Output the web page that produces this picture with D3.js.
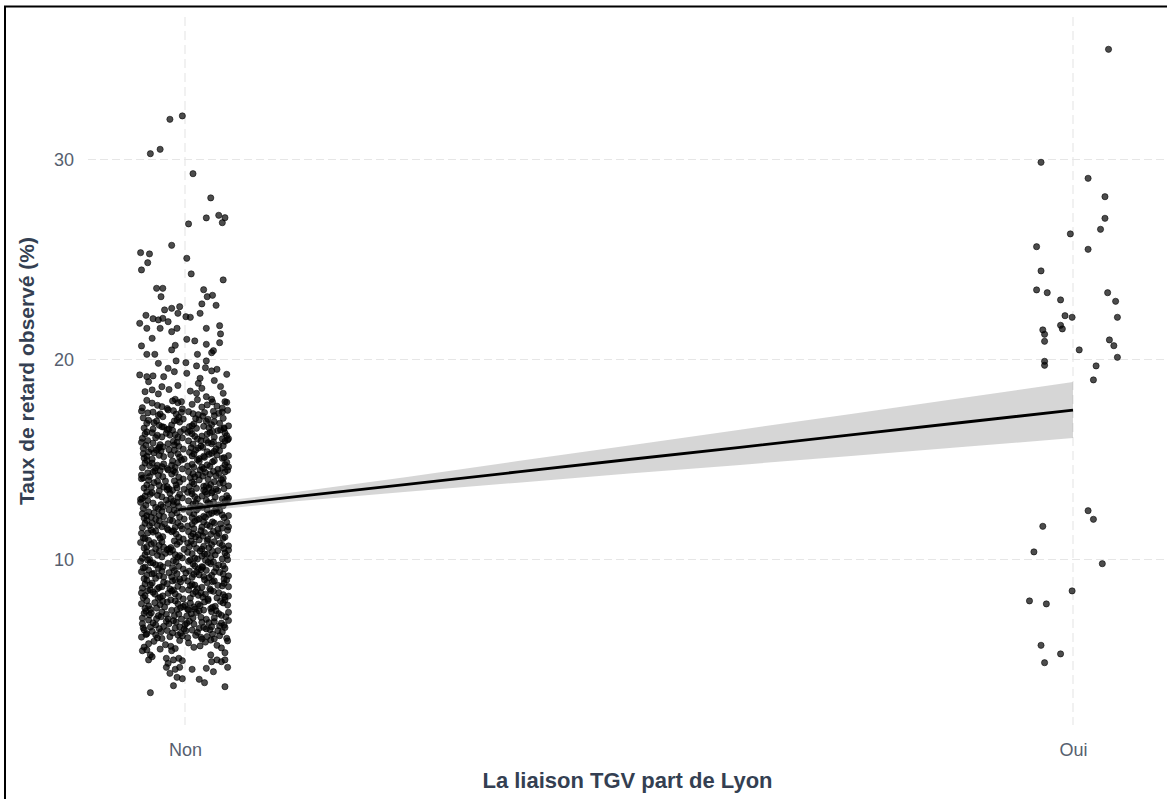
<!DOCTYPE html>
<html><head><meta charset="utf-8">
<script src="https://cdn.jsdelivr.net/npm/d3@7"></script>
<style>html,body{margin:0;padding:0;background:#fff;} svg{display:block;}</style>
</head><body><svg id="c" width="1167" height="799"></svg>
<script>
const categories = ["Non", "Oui"];
const yTicks = [10, 20, 30];
const xTitle = "La liaison TGV part de Lyon";
const yTitle = "Taux de retard observé (%)";

// linear fit + 95% confidence band (x = 1 for Non, 2 for Oui)
const fitX     = [0.992, 1.125, 1.25, 1.375, 1.5, 1.625, 1.75, 1.875, 2.0];
const fitY     = [12.48, 13.14, 13.76, 14.38, 15.00, 15.61, 16.23, 16.85, 17.47];
const bandLow  = [12.30, 12.91, 13.39, 13.84, 14.30, 14.73, 15.18, 15.62, 16.07];
const bandHigh = [12.66, 13.37, 14.13, 14.92, 15.70, 16.49, 17.28, 18.08, 18.87];

// Oui points: [jitter, value]
const ouiPoints = [
[.040,35.51],[-.036,29.86],[.017,29.06],[.036,28.14],[.036,27.06],[.031,26.51],[-.003,26.28],[-.041,25.64],
[.017,25.51],[-.036,24.43],[-.041,23.48],[-.029,23.34],[-.014,22.98],[.039,23.34],[.048,22.91],[-.009,22.19],
[-.001,22.11],[.050,22.11],[-.014,21.71],[-.012,21.53],[-.034,21.48],[-.032,21.26],[-.032,20.91],[.041,20.98],
[.046,20.69],[.007,20.48],[.050,20.11],[-.032,19.91],[-.032,19.71],[.026,19.68],[.023,18.98],[.017,12.44],
[.023,12.01],[-.034,11.66],[-.044,10.38],[.033,9.79],[-.001,8.43],[-.049,7.93],[-.030,7.78],[-.036,5.71],
[-.014,5.28],[-.032,4.84]
];

// Non points: [jitter, value]
const nonPoints = [
[-.017,32.01],[-.003,32.18],[-.039,30.29],[-.028,30.51],[.009,29.29],[.029,28.08],[.024,27.08],[.038,27.21],
[.045,27.09],[.042,26.84],[.004,26.78],[-.015,25.71],[-.050,25.34],[-.040,25.28],[-.042,24.84],[.002,25.06],
[-.049,24.48],[.007,24.28],[.043,23.98],[-.032,23.56],[-.025,23.56],[-.027,23.14],[.021,23.49],[.025,23.14],
[.031,23.21],[.019,22.78],[.035,22.71],[-.023,22.48],[-.015,22.56],[-.006,22.64],[.017,22.31],[-.044,22.21],
[-.036,22.04],[-.025,22.06],[-.008,22.31],[.001,22.14],[.006,22.11],[-.051,21.81],[-.043,21.56],[-.028,21.56],
[-.019,21.89],[-.015,21.39],[-.009,21.56],[-.030,21.98],[.024,21.56],[.039,21.69],[.040,21.28],[-.037,21.06],
[.002,21.01],[.011,20.93],[-.049,20.68],[-.011,20.71],[-.015,20.48],[.024,20.76],[.039,20.84],[.032,20.44],
[.030,20.34],[-.043,20.26],[-.034,20.26],[.014,20.26],[-.010,19.93],[.001,19.84],[.024,19.93],[-.030,19.81],
[.013,19.68],[.023,19.59],[-.019,19.56],[-.012,19.39],[.030,19.43],[.036,19.51],[-.051,19.23],[-.043,19.14],
[-.036,19.18],[-.024,19.14],[.002,19.31],[.047,19.26],[.017,19.06],[-.041,18.89],[-.026,18.64],[-.045,18.39],
[-.037,18.48],[-.030,18.28],[.015,18.81],[.019,18.56],[.013,18.31],[.043,18.31],[.024,18.14],[-.011,18.01],
[-.004,17.89],[.030,18.01],[.045,17.89],[-.008,18.70],[.033,18.95],[-.018,18.50],[.006,18.42],[.040,18.65],
[-.048,17.59],[-.037,17.82],[-.026,17.64],[-.014,17.93],[-.003,17.53],[.008,17.76],[.019,17.62],[.031,17.88],
[.042,17.57],[-.043,17.96],[-.031,17.71],[-.008,17.84],[.014,17.99],[.025,17.73],[.047,17.86],[-.020,17.55],[.036,17.67],
[-.047,17.08],[-.036,17.37],[-.025,17.14],[-.013,17.44],[-.002,17.02],[.009,17.29],[.020,17.17],[.032,17.41],
[.043,17.06],[-.042,17.33],[-.030,17.21],[-.019,17.48],[-.007,17.11],[.004,17.39],[.015,17.24],[.026,17.01],
[.038,17.31],[.048,17.46],[-.010,17.27],[.022,17.35],
[-.046,16.57],[-.035,16.84],[-.024,16.62],[-.012,16.93],[-.001,16.51],[.010,16.78],[.021,16.66],[.033,16.89],
[.044,16.54],[-.041,16.96],[-.029,16.71],[-.018,16.53],[-.006,16.87],[.005,16.64],[.016,16.98],[.027,16.59],
[.039,16.81],[.049,16.68],[-.032,16.92],[.013,16.56],[.030,16.74],[-.015,16.73],
[-.048,16.06],[-.037,16.34],[-.026,16.13],[-.014,16.46],[-.003,16.08],[.008,16.29],[.019,16.17],[.031,16.41],
[.042,16.03],[-.043,16.38],[-.031,16.21],[-.020,16.49],[-.008,16.11],[.003,16.36],[.014,16.02],[.025,16.27],
[.037,16.44],[.047,16.19],[-.021,16.31],[.006,16.43],[.033,16.12],[-.011,16.24],[.045,16.33],
[-.047,15.56],[-.036,15.82],[-.025,15.63],[-.013,15.91],[-.002,15.52],[.009,15.77],[.020,15.61],[.032,15.88],
[.043,15.69],[-.042,15.95],[-.030,15.54],[-.019,15.79],[-.007,15.66],[.004,15.93],[.015,15.57],[.026,15.84],
[.038,15.72],[.048,15.98],[-.028,15.74],[.018,15.68],[.035,15.53],[-.009,15.86],[.024,15.96],[-.044,15.71],
[-.046,15.07],[-.035,15.33],[-.024,15.14],[-.012,15.46],[-.001,15.02],[.010,15.28],[.021,15.16],[.033,15.41],
[.044,15.09],[-.041,15.38],[-.029,15.21],[-.018,15.49],[-.006,15.12],[.005,15.36],[.016,15.04],[.027,15.26],
[.039,15.44],[.049,15.19],[-.037,15.01],[.012,15.47],[.030,15.31],[-.016,15.24],[.022,15.11],[-.047,15.29],
[-.048,14.59],[-.037,14.82],[-.026,14.64],[-.014,14.93],[-.003,14.53],[.008,14.76],[.019,14.62],[.031,14.88],
[.042,14.57],[-.043,14.96],[-.031,14.71],[-.020,14.55],[-.008,14.84],[.003,14.67],[.014,14.99],[.025,14.73],
[.037,14.51],[.047,14.86],[-.024,14.78],[.016,14.91],[.028,14.66],[-.011,14.61],[.045,14.74],[-.040,14.69],
[-.047,14.08],[-.036,14.37],[-.025,14.14],[-.013,14.44],[-.002,14.02],[.009,14.29],[.020,14.17],[.032,14.41],
[.043,14.06],[-.042,14.33],[-.030,14.21],[-.019,14.48],[-.007,14.11],[.004,14.39],[.015,14.24],[.026,14.01],
[.038,14.31],[.048,14.46],[-.034,14.43],[.011,14.13],[.035,14.19],[-.015,14.27],[.023,14.35],[-.049,14.04],
[-.046,13.57],[-.035,13.84],[-.024,13.62],[-.012,13.93],[-.001,13.51],[.010,13.78],[.021,13.66],[.033,13.89],
[.044,13.54],[-.041,13.96],[-.029,13.71],[-.018,13.53],[-.006,13.87],[.005,13.64],[.016,13.98],[.027,13.59],
[.039,13.81],[.049,13.68],[-.022,13.92],[.013,13.56],[.029,13.74],[-.010,13.73],[.041,13.99],[-.038,13.61],
[-.048,13.06],[-.037,13.34],[-.026,13.13],[-.014,13.46],[-.003,13.08],[.008,13.29],[.019,13.17],[.031,13.41],
[.042,13.03],[-.043,13.38],[-.031,13.21],[-.020,13.49],[-.008,13.11],[.003,13.36],[.014,13.02],[.025,13.27],
[.037,13.44],[.047,13.19],[-.039,13.26],[.007,13.42],[.034,13.12],[-.017,13.31],[.021,13.47],[-.050,13.01],
[-.047,12.56],[-.036,12.82],[-.025,12.63],[-.013,12.91],[-.002,12.52],[.009,12.77],[.020,12.61],[.032,12.88],
[.043,12.69],[-.042,12.95],[-.030,12.54],[-.019,12.79],[-.007,12.66],[.004,12.93],[.015,12.57],[.026,12.84],
[.038,12.72],[.048,12.98],[-.027,12.74],[.017,12.68],[.035,12.53],[-.009,12.86],[.024,12.96],[-.044,12.71],
[-.046,12.07],[-.035,12.33],[-.024,12.14],[-.012,12.46],[-.001,12.02],[.010,12.28],[.021,12.16],[.033,12.41],
[.044,12.09],[-.041,12.38],[-.029,12.21],[-.018,12.49],[-.006,12.12],[.005,12.36],[.016,12.04],[.027,12.26],
[.039,12.44],[.049,12.19],[-.033,12.01],[.013,12.47],[.030,12.31],[-.015,12.24],[.023,12.11],[-.048,12.29],
[-.048,11.59],[-.037,11.82],[-.026,11.64],[-.014,11.93],[-.003,11.53],[.008,11.76],[.019,11.62],[.031,11.88],
[.042,11.57],[-.043,11.96],[-.031,11.71],[-.020,11.55],[-.008,11.84],[.003,11.67],[.014,11.99],[.025,11.73],
[.037,11.51],[.047,11.86],[-.023,11.79],[.011,11.91],[.028,11.66],[-.011,11.61],[.040,11.78],[-.040,11.69],
[-.047,11.08],[-.036,11.37],[-.025,11.14],[-.013,11.44],[-.002,11.02],[.009,11.29],[.020,11.17],[.032,11.41],
[.043,11.06],[-.042,11.33],[-.030,11.21],[-.019,11.48],[-.007,11.11],[.004,11.39],[.015,11.24],[.026,11.01],
[.038,11.31],[.048,11.46],[-.033,11.43],[.012,11.13],[.036,11.19],[-.010,11.27],[.022,11.35],[-.045,11.04],
[-.046,10.57],[-.035,10.84],[-.024,10.62],[-.012,10.93],[-.001,10.51],[.010,10.78],[.021,10.66],[.033,10.89],
[.044,10.54],[-.041,10.96],[-.029,10.71],[-.018,10.53],[-.006,10.87],[.005,10.64],[.016,10.98],[.027,10.59],
[.039,10.81],[.049,10.68],[-.038,10.77],[.007,10.91],[.030,10.74],[-.016,10.60],[.019,10.52],[-.050,10.85],
[-.048,10.06],[-.037,10.34],[-.026,10.13],[-.014,10.46],[-.003,10.08],[.008,10.29],[.019,10.17],[.031,10.41],
[.042,10.03],[-.043,10.38],[-.031,10.21],[-.020,10.49],[-.008,10.11],[.003,10.36],[.014,10.02],[.025,10.27],
[.037,10.44],[.047,10.19],[-.022,10.31],[.017,10.43],[.029,10.09],[-.011,10.24],[.045,10.33],[-.040,10.01],
[-.047,9.58],[-.036,9.83],[-.025,9.63],[-.013,9.94],[-.002,9.52],[.009,9.77],[.020,9.61],[.032,9.88],
[.043,9.69],[-.042,9.97],[-.030,9.55],[-.019,9.81],[-.007,9.66],[.004,9.91],[.015,9.54],[.026,9.86],
[.038,9.72],[.048,9.99],[-.033,9.74],[.011,9.68],[.035,9.57],[-.010,9.89],[.023,9.96],[-.045,9.62],
[-.046,9.04],[-.035,9.31],[-.024,9.12],[-.012,9.44],[-.001,9.07],[.010,9.26],[.021,9.15],[.033,9.38],
[.044,9.02],[-.041,9.47],[-.029,9.19],[-.018,9.34],[-.006,9.01],[.005,9.42],[.016,9.23],[.027,9.09],
[.039,9.36],[.049,9.18],[-.037,9.28],[.018,9.49],[.030,9.21],[-.015,9.13],[.001,9.33],[-.049,9.39],
[-.048,8.57],[-.037,8.82],[-.026,8.64],[-.014,8.93],[-.003,8.51],[.008,8.76],[.019,8.61],[.031,8.89],
[.042,8.68],[-.043,8.96],[-.031,8.54],[-.020,8.79],[-.008,8.66],[.003,8.92],[.014,8.55],[.025,8.84],
[.037,8.71],[.047,8.98],[-.024,8.86],[.006,8.69],[.028,8.53],[-.011,8.97],[.044,8.81],[-.039,8.73],
[-.047,8.09],[-.036,8.36],[-.025,8.18],[-.013,8.47],[-.002,8.03],[.009,8.29],[.020,8.12],[.032,8.41],
[.043,8.24],[-.042,8.44],[-.030,8.06],[-.019,8.31],[-.007,8.15],[.004,8.48],[.015,8.21],[.026,8.02],
[.038,8.34],[.049,8.17],[-.034,8.27],[.012,8.39],[.036,8.08],[-.015,8.43],[.023,8.26],[-.045,8.19],
[-.045,7.56],[-.034,7.84],[-.023,7.62],[-.011,7.93],[.000,7.71],[.011,7.52],[.022,7.88],[.034,7.66],
[.045,7.97],[-.049,7.79],[-.039,7.51],[-.028,7.74],[-.016,7.98],[-.005,7.59],[.006,7.82],[.017,7.69],
[.029,7.55],[.040,7.91],[-.020,7.87],[.015,7.77],[.031,7.61],[-.043,7.94],[.048,7.72],[-.002,7.64],
[-.048,7.07],[-.038,7.33],[-.027,7.14],[-.015,7.46],[-.004,7.02],[.007,7.28],[.018,7.11],[.030,7.39],
[.041,7.21],[-.044,7.41],[-.032,7.04],[-.021,7.26],[-.009,7.49],[.002,7.17],[.013,7.35],[.024,7.01],
[.035,7.44],[.046,7.13],[-.026,7.37],[.009,7.08],[.038,7.29],[-.012,7.19],[.021,7.47],[-.040,7.23],
[-.047,6.58],[-.036,6.83],[-.024,6.66],[-.013,6.94],[-.001,6.52],[.010,6.77],[.021,6.61],[.033,6.89],
[.044,6.71],[-.041,6.97],[-.029,6.54],[-.018,6.79],[-.006,6.63],[.005,6.91],[.016,6.56],[.027,6.84],
[.039,6.68],[.049,6.95],[-.033,6.73],[.002,6.81],[.024,6.53],[-.010,6.87],[.045,6.60],
[-.049,6.12],[-.037,6.41],[-.026,6.05],[-.014,6.33],[-.003,6.18],[.008,6.47],[.019,6.02],[.031,6.27],
[.042,6.38],[-.043,6.29],[-.031,6.08],[-.020,6.45],[-.008,6.22],[.003,6.09],[.014,6.36],[.025,6.15],
[.037,6.44],[.047,6.06],[-.033,6.23],[.012,6.21],[-.046,6.48],[.028,6.49],
[-.046,5.62],[-.035,5.91],[-.022,5.74],[-.011,5.55],[.004,5.83],[.017,5.68],[.029,5.97],[.041,5.58],
[-.041,5.79],[-.028,5.52],[-.006,5.95],[.010,5.61],[.023,5.87],[.036,5.71],[.048,5.93],[-.016,5.66],
[-.039,3.34],[-.013,3.69],[-.003,4.04],[-.009,4.11],[.008,4.51],[.016,4.01],[.022,3.84],[.045,3.64],
[-.021,4.61],[-.017,4.31],[-.011,4.51],[-.006,4.61],[-.019,4.81],[-.013,4.98],[-.007,5.06],[-.003,4.94],
[.024,4.56],[.032,4.39],[.030,4.89],[.036,4.98],[.041,4.89],[.048,4.61],[.045,5.34],[.045,4.98],
[.029,5.23],[-.048,5.44],[-.043,5.48],[-.039,5.23],[-.041,4.98],[-.037,5.14],[-.015,5.44],[-.021,5.06],
// additional dense-core points
[-.044,6.25],[-.027,6.39],[-.005,6.31],[.018,6.11],[.039,6.19],[.001,6.44],[.033,6.03],[-.017,6.14],
[-.039,6.62],[-.021,6.91],[.000,6.74],[.019,6.86],[.041,6.82],[-.048,6.79],[.030,6.64],[-.011,6.57],
[-.046,7.31],[-.030,7.19],[-.007,7.27],[.016,7.43],[.033,7.08],[.049,7.36],[.004,7.47],[-.019,7.03],
[-.041,7.68],[-.025,7.91],[-.008,7.79],[.010,7.63],[.026,7.95],[.043,7.83],[-.032,7.57],[.003,7.52],
[-.049,8.33],[-.028,8.11],[-.011,8.28],[.006,8.07],[.029,8.45],[.045,8.13],[-.039,8.49],[.018,8.33],
[-.045,8.77],[-.029,8.61],[-.005,8.88],[.011,8.72],[.033,8.93],[.049,8.64],[-.017,8.53],[.022,8.99],
[-.043,9.21],[-.026,9.42],[-.009,9.29],[.008,9.11],[.024,9.46],[.043,9.27],[-.033,9.06],[.013,9.38],
[-.050,9.91],[-.028,9.71],[-.014,9.59],[.006,9.97],[.029,9.79],[.045,9.54],[-.039,9.84],[.019,9.64],
[-.045,10.24],[-.029,10.41],[-.006,10.19],[.011,10.07],[.034,10.23],[.049,10.47],[-.017,10.37],[.022,10.28],
[-.043,10.64],[-.026,10.88],[-.009,10.76],[.013,10.56],[.025,10.94],[.042,10.71],[-.033,10.53],[.003,10.82],
[-.049,11.31],[-.028,11.06],[-.015,11.39],[.007,11.18],[.029,11.26],[.045,11.12],[-.038,11.47],[.018,11.44],
[-.045,11.81],[-.029,11.93],[-.005,11.68],[.010,11.54],[.033,11.82],[.049,11.63],[-.017,11.97],[.021,11.87],
[-.043,12.19],[-.026,12.41],[-.009,12.33],[.008,12.09],[.025,12.48],[.042,12.23],[-.038,12.12],[.036,12.36],
[-.050,12.86],[-.033,12.61],[-.013,12.74],[.006,12.58],[.028,12.79],[.045,12.91],[-.021,12.97],[.012,12.83],
[-.045,13.17],[-.029,13.43],[-.006,13.26],[.011,13.14],[.030,13.33],[.049,13.07],[-.016,13.04],[.023,13.38],
[-.043,13.72],[-.031,13.91],[-.009,13.58],[.008,13.86],[.024,13.69],[.043,13.83],[-.020,13.64],[.035,13.52],
[-.049,14.22],[-.028,14.44],[-.011,14.36],[.006,14.09],[.028,14.26],[.045,14.38],[-.040,14.15],[.017,14.47],
[-.045,14.82],[-.033,14.57],[-.015,14.72],[.010,14.61],[.033,14.94],[.049,14.63],[-.004,14.97],[.021,14.54],
[-.043,15.16],[-.027,15.43],[-.008,15.29],[.008,15.18],[.025,15.39],[.042,15.06],[-.032,15.47],[.036,15.23],
[-.049,15.86],[-.029,15.62],[-.012,15.73],[.007,15.59],[.030,15.79],[.045,15.91],[-.038,15.51],[.018,15.94],
[-.045,16.27],[-.033,16.09],[-.005,16.39],[.011,16.16],[.028,16.35],[.049,16.04],[-.017,16.22],[.040,16.48],
[-.043,16.81],[-.026,16.64],[-.009,16.97],[.008,16.69],[.024,16.91],[.044,16.58],[-.036,16.52],
[-.049,17.42],[-.028,17.28],[-.004,17.36],[.012,17.05],[.033,17.19],[.042,17.37]
];

const svg = d3.select("#c");
const W = 1167, H = 799;
const panel = {left: 88, right: 1167, top: 17, bottom: 725};

const x = d3.scaleLinear().domain([1, 2]).range([185, 1073]);
const y = d3.scaleLinear().domain([10, 30]).range([559.5, 159.5]);
const xCat = d3.scalePoint().domain(categories).range([x(1), x(2)]);

// outer frame
svg.append("rect").attr("x", 5).attr("y", 6.5).attr("width", W + 10).attr("height", H + 10)
  .attr("fill", "none").attr("stroke", "#000").attr("stroke-width", 2);

// grid
const grid = svg.append("g");
grid.selectAll("line.h").data(yTicks).join("line")
  .attr("x1", panel.left).attr("x2", panel.right)
  .attr("y1", d => y(d)).attr("y2", d => y(d))
  .attr("stroke", "#e6e6e6").attr("stroke-width", 1.1).attr("stroke-dasharray", "8,4");
grid.selectAll("line.v").data(categories).join("line")
  .attr("x1", d => xCat(d)).attr("x2", d => xCat(d))
  .attr("y1", panel.top).attr("y2", panel.bottom)
  .attr("stroke", "#e6e6e6").attr("stroke-width", 1.1).attr("stroke-dasharray", "9,5");

// axes (text only)
const yAxis = d3.axisLeft(y).tickValues(yTicks).tickSize(0).tickPadding(0);
const gy = svg.append("g").attr("transform", "translate(74,0)").call(yAxis);
gy.select(".domain").remove();
gy.selectAll("text").attr("font-family", "Liberation Sans, Arial, sans-serif")
  .attr("font-size", 18).attr("fill", "#56606f").attr("dy", "0.35em");

const xAxis = d3.axisBottom(xCat).tickSize(0).tickPadding(0);
const gx = svg.append("g").attr("transform", "translate(0,743)").call(xAxis);
gx.select(".domain").remove();
gx.selectAll("text").attr("font-family", "Liberation Sans, Arial, sans-serif")
  .attr("font-size", 18).attr("fill", "#56606f").attr("dy", "0.71em");

// points
const pts = svg.append("g");
function drawPts(data, base) {
  pts.selectAll(null).data(data).join("circle")
    .attr("cx", d => x(base + d[0])).attr("cy", d => y(d[1])).attr("r", 3.1)
    .attr("fill", "#000").attr("fill-opacity", 0.7)
    .attr("stroke", "#000").attr("stroke-opacity", 0.7).attr("stroke-width", 0.8);
}
drawPts(nonPoints, 1);
drawPts(ouiPoints, 2);

// confidence band
const bandData = fitX.map((v, i) => ({x: v, lo: bandLow[i], hi: bandHigh[i], f: fitY[i]}));
svg.append("path").datum(bandData)
  .attr("d", d3.area().x(d => x(d.x)).y0(d => y(d.lo)).y1(d => y(d.hi)))
  .attr("fill", "#999999").attr("fill-opacity", 0.4);
svg.append("path").datum(bandData)
  .attr("d", d3.line().x(d => x(d.x)).y(d => y(d.f)))
  .attr("fill", "none").attr("stroke", "#000").attr("stroke-width", 2.8);

// titles
svg.append("text").attr("x", (panel.left + panel.right) / 2).attr("y", 788)
  .attr("text-anchor", "middle").attr("font-family", "Liberation Sans, Arial, sans-serif")
  .attr("font-weight", "bold").attr("font-size", 22).attr("fill", "#343f52").text(xTitle);
svg.append("text").attr("transform", `translate(34,${(panel.top + panel.bottom) / 2}) rotate(-90)`)
  .attr("text-anchor", "middle").attr("font-family", "Liberation Sans, Arial, sans-serif")
  .attr("font-weight", "bold").attr("font-size", 21).attr("fill", "#343f52").text(yTitle);
</script></body></html>
